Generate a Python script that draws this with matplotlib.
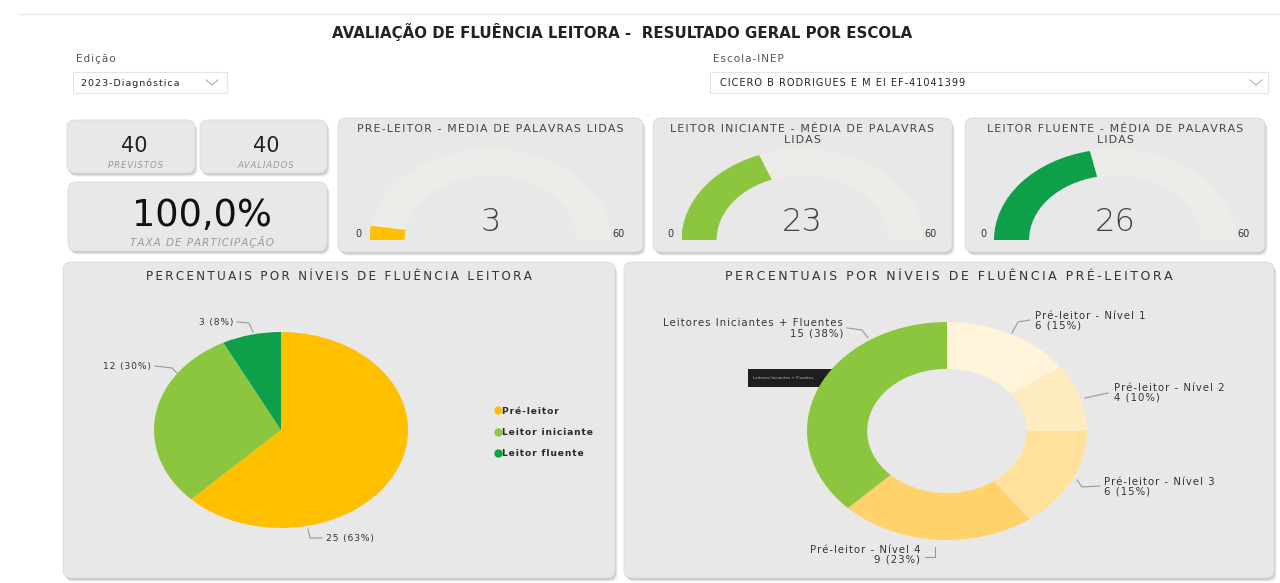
import matplotlib.pyplot as plt
from matplotlib.patches import FancyBboxPatch, Wedge, Rectangle
from matplotlib.lines import Line2D

W, H = 1280, 583

# ---- data ----
edicao = "2023-Diagnóstica"
escola = "CICERO B RODRIGUES E M EI EF-41041399"
previstos = 40
avaliados = 40
taxa_participacao = "100,0%"

gauge_titles = [
    "PRE-LEITOR - MEDIA DE PALAVRAS LIDAS",
    "LEITOR INICIANTE - MÉDIA DE PALAVRAS\nLIDAS",
    "LEITOR FLUENTE - MÉDIA DE PALAVRAS\nLIDAS",
]
gauge_values = [3, 23, 26]
gauge_max = 60

niveis = ["Pré-leitor", "Leitor iniciante", "Leitor fluente"]
niveis_qtd = [25, 12, 3]
niveis_pct = [63, 30, 8]

pre_niveis = ["Pré-leitor - Nível 1", "Pré-leitor - Nível 2", "Pré-leitor - Nível 3",
              "Pré-leitor - Nível 4", "Leitores Iniciantes + Fluentes"]
pre_qtd = [6, 4, 6, 9, 15]
pre_pct = [15, 10, 15, 23, 38]

# ---- styling ----
YELLOW = "#FFC000"
LGREEN = "#8CC63F"
DGREEN = "#0E9F49"
CARD = "#E8E8E8"
ARC_BG = "#EDECE9"
TXT = "#333333"
pre_colors = ["#FFF3DA", "#FFEBC0", "#FFE19C", "#FFD26C", LGREEN]

plt.rcParams["font.family"] = ["DejaVu Sans"]

HAIR = "\u200a"
THIN = "\u2009"


def spaced(s, sp=HAIR):
    # dashboard font is letter-spaced; mimic it with hair spaces
    return "\n".join(sp.join(line) for line in s.split("\n"))


fig = plt.figure(figsize=(W / 100, H / 100), dpi=100)
fig.patch.set_facecolor("white")
bg = fig.add_axes([0, 0, 1, 1])
bg.set_xlim(0, W)
bg.set_ylim(H, 0)
bg.axis("off")


def card(x, y, w, h, r=8):
    for i, a in enumerate([0.10, 0.07, 0.04]):
        bg.add_patch(FancyBboxPatch((x + 1 + i, y + 2 + i), w, h,
                                    boxstyle=f"round,pad=0,rounding_size={r}",
                                    fc="#000000", ec="none", alpha=a))
    bg.add_patch(FancyBboxPatch((x, y), w, h, boxstyle=f"round,pad=0,rounding_size={r}",
                                fc=CARD, ec="#dcdcdc", lw=0.6))


def fig_axes(x, y, w, h):
    # pixel box (top-left origin) -> figure fraction
    return fig.add_axes([x / W, 1 - (y + h) / H, w / W, h / H])


def leader(pts):
    xs, ys = zip(*pts)
    bg.plot(xs, ys, color="#9a9a9a", lw=0.8)


# header
bg.plot([20, W], [14, 14], color="#e6e6e6", lw=1)
bg.text(622, 32, "AVALIAÇÃO DE FLUÊNCIA LEITORA -  RESULTADO GERAL POR ESCOLA",
        ha="center", va="center", fontsize=10.8, fontweight="bold", color="#222222")

# slicers
bg.text(76, 59, spaced("Edição"), ha="left", va="center", fontsize=7.5, color="#555555")
bg.add_patch(Rectangle((73, 72), 154, 21, fc="white", ec="#e4e4e4", lw=0.8))
bg.text(81, 83, spaced(edicao), ha="left", va="center", fontsize=6.8, color="#222222")
bg.plot([206, 212, 218], [80, 85, 80], color="#b0b0b0", lw=0.8)

bg.text(713, 59, spaced("Escola-INEP"), ha="left", va="center", fontsize=7.5, color="#555555")
bg.add_patch(Rectangle((710, 72), 558, 21, fc="white", ec="#e4e4e4", lw=0.8))
bg.text(720, 83, spaced(escola), ha="left", va="center", fontsize=7, color="#222222")
bg.plot([1250, 1256, 1262], [80, 85, 80], color="#b0b0b0", lw=0.8)

# KPI cards
card(67, 120, 128, 53)
card(200, 120, 127, 53)
card(68, 182, 259, 69)
bg.text(134, 146, str(previstos), ha="center", va="center", fontsize=15, color="#222222")
bg.text(136, 165, spaced("PREVISTOS"), ha="center", va="center", fontsize=6.2, color="#9a9a9a",
        style="italic")
bg.text(266, 146, str(avaliados), ha="center", va="center", fontsize=15, color="#222222")
bg.text(266, 165, spaced("AVALIADOS"), ha="center", va="center", fontsize=6.2, color="#9a9a9a",
        style="italic")
bg.text(202, 216, taxa_participacao, ha="center", va="center", fontsize=26.5, color="#111111")
bg.text(202, 242, spaced("TAXA DE PARTICIPAÇÃO"), ha="center", va="center", fontsize=7.5,
        color="#9a9a9a", style="italic")

# gauges
gauge_cards = [(338, 118, 305, 134), (653, 118, 299, 134), (965, 118, 300, 134)]
gauge_colors = [YELLOW, LGREEN, DGREEN]
RX, RY, CY = 121, 91, 240
for (x, y, w, h), title, val, col in zip(gauge_cards, gauge_titles, gauge_values, gauge_colors):
    card(x, y, w, h)
    cx = x + w / 2
    bg.text(cx, 124, spaced(title), ha="center", va="top", fontsize=7.9, color="#444444",
            linespacing=1.15)
    ax = fig_axes(cx - RX, CY - RY, 2 * RX, RY)
    ax.set_xlim(-1, 1)
    ax.set_ylim(0, 1)
    ax.axis("off")
    ax.add_patch(Wedge((0, 0), 1, 0, 180, width=0.29, fc=ARC_BG, ec="none"))
    ax.add_patch(Wedge((0, 0), 1, 180 - 180 * val / gauge_max, 180, width=0.29, fc=col, ec="none"))
    bg.text(cx, 222, str(val), ha="center", va="center", fontsize=23, color="#444444",
            fontweight="light")
    bg.text(cx - 132, 234, "0", ha="center", va="center", fontsize=7, color="#333333")
    bg.text(cx + 128, 234, str(gauge_max), ha="center", va="center", fontsize=7, color="#333333")

# pie card
card(63, 262, 552, 316)
bg.text(339, 276, spaced("PERCENTUAIS POR NÍVEIS DE FLUÊNCIA LEITORA", THIN), ha="center",
        va="center", fontsize=8.6, color=TXT)
pie_ax = fig_axes(154, 332, 254, 196)
pie_ax.pie(niveis_qtd, colors=[YELLOW, LGREEN, DGREEN], startangle=90, counterclock=False,
           wedgeprops=dict(linewidth=0))
pie_ax.set_xlim(-1, 1)
pie_ax.set_ylim(-1, 1)
pie_ax.set_aspect("auto")

lab = [spaced(f"{q} ({p}%)") for q, p in zip(niveis_qtd, niveis_pct)]
bg.text(326, 538, lab[0], ha="left", va="center", fontsize=6.6, color=TXT)
leader([(322, 538), (310, 538), (308, 529)])
bg.text(151, 366, lab[1], ha="right", va="center", fontsize=6.6, color=TXT)
leader([(155, 366), (172, 368), (178, 374)])
bg.text(233, 322, lab[2], ha="right", va="center", fontsize=6.6, color=TXT)
leader([(237, 322), (249, 323), (253, 332)])

handles = [Line2D([], [], marker="o", ls="none", ms=5, mfc=c, mec=c)
           for c in [YELLOW, LGREEN, DGREEN]]
fig.legend(handles, [spaced(n) for n in niveis], loc="upper left",
           bbox_to_anchor=(490 / W, 1 - 402 / H), frameon=False,
           labelspacing=1.35, handletextpad=0.05, handlelength=0.8, borderpad=0,
           labelcolor="#2a2a2a", prop=dict(size=6.6, weight="semibold"))

# donut card
card(624, 262, 650, 316)
bg.text(949, 276, spaced("PERCENTUAIS POR NÍVEIS DE FLUÊNCIA PRÉ-LEITORA", THIN), ha="center",
        va="center", fontsize=9.0, color=TXT)
don_ax = fig_axes(807, 322, 280, 218)
don_ax.pie(pre_qtd, colors=pre_colors, startangle=90, counterclock=False,
           wedgeprops=dict(width=0.43, linewidth=0))
don_ax.set_xlim(-1, 1)
don_ax.set_ylim(-1, 1)
don_ax.set_aspect("auto")

dlab = [spaced(f"{n}\n{q} ({p}%)") for n, q, p in zip(pre_niveis, pre_qtd, pre_pct)]
kw = dict(va="center", fontsize=7.3, color=TXT, linespacing=1.0)
bg.text(1035, 321, dlab[0], ha="left", **kw)
leader([(1030, 320), (1018, 322), (1012, 333)])
bg.text(1114, 393, dlab[1], ha="left", **kw)
leader([(1108, 393), (1085, 398)])
bg.text(1104, 487, dlab[2], ha="left", **kw)
leader([(1100, 486), (1082, 487), (1077, 480)])
bg.text(920, 555, dlab[3], ha="right", multialignment="right", **kw)
leader([(925, 557), (935, 557), (935, 547)])
bg.text(843, 328, dlab[4], ha="right", multialignment="right", **kw)
leader([(847, 328), (862, 330), (868, 338)])

# hover tooltip
bg.add_patch(Rectangle((748, 369), 114, 18, fc="#1e1e1e", ec="none"))
bg.text(753, 378, "Leitores Iniciantes + Fluentes", ha="left", va="center", fontsize=3,
        color="#bbbbbb")
bg.text(857, 378, "15 (38%)", ha="right", va="center", fontsize=3, color="white",
        fontweight="bold")

fig.savefig("out.png", dpi=100, facecolor="white")
